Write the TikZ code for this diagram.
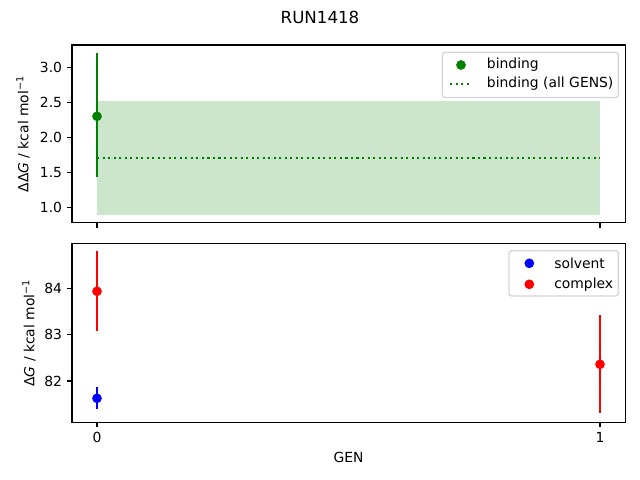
\documentclass[tikz,border=0pt]{standalone}
\usepackage{fontspec}
\setmainfont{DejaVu Sans}
\begin{document}
\begin{tikzpicture}[x=0.72pt,y=-0.72pt,
  spine/.style={draw=black,line width=0.8pt},
  tick/.style={draw=black,line width=0.8pt},
  ticklab/.style={font=\fontsize{10}{12}\selectfont,inner sep=0pt},
  ebar/.style={line width=1.5pt},
  dot/.style={circle,inner sep=0pt,minimum size=7pt},
  legbox/.style={draw={rgb,1:red,0.8;green,0.8;blue,0.8},fill=white,fill opacity=0.8,draw opacity=0.8,line width=1pt,rounded corners=2pt},
  legtext/.style={font=\fontsize{10}{12}\selectfont,anchor=west,inner sep=0pt}]
\definecolor{mgreen}{HTML}{008000}
\definecolor{mfill}{RGB}{204,230,204}
\useasboundingbox (0,0) rectangle (640,480);
% title
\node[font=\fontsize{12}{14}\selectfont,inner sep=0pt] (title) at (320,17) {RUN1418};
% ---------- top axes ----------
\fill[mfill] (97,101) rectangle (600,215.3);
\draw[mgreen,line width=1.5pt,dash pattern=on 1.5pt off 2.475pt] (97,157.7) -- (600,157.7);
\coordinate (tb0) at (97,53.3);
\coordinate (tb1) at (97,177.3);
\draw[mgreen,ebar] (tb0) -- (tb1);
\node[dot,fill=mgreen] (bind0) at (97,116.3) {};
\draw[spine] (72,45) rectangle (625.5,222.7);
\foreach \v/\y in {3.0/67.3,2.5/102.4,2.0/137.5,1.5/172.6,1.0/207.7}{
  \draw[tick] (72,\y) -- ++(-4.86,0);
  \node[ticklab,anchor=east] at (62.3,\y) {\v};
}
\foreach \x in {97,600}{\draw[tick] (\x,222.7) -- ++(0,4.86);}
\node[rotate=90,font=\fontsize{10}{12}\selectfont,inner sep=0pt] (ylab1) at (23,134) {ΔΔ\textit{G} / kcal mol\textsuperscript{−1}};
% legend top
\draw[legbox] (442.3,52.3) rectangle (618.3,97.5);
\node[dot,fill=mgreen] (lg1) at (461,65) {};
\node[legtext] (lt1) at (486.7,65) {binding};
\coordinate (ld1a) at (450,84);
\coordinate (ld1b) at (472,84);
\draw[mgreen,line width=1.5pt,dash pattern=on 1.5pt off 2.475pt] (ld1a) -- (ld1b);
\node[legtext] (lt2) at (486.7,84) {binding (all GENS)};
% ---------- bottom axes ----------
\coordinate (r0a) at (97,251);
\coordinate (r0b) at (97,330.7);
\draw[red,ebar] (r0a) -- (r0b);
\node[dot,fill=red] (red0) at (97,291.3) {};
\coordinate (b0a) at (97,386.7);
\coordinate (b0b) at (97,408.7);
\draw[blue,ebar] (b0a) -- (b0b);
\node[dot,fill=blue] (blue0) at (97,398.3) {};
\coordinate (r1a) at (600,315.3);
\coordinate (r1b) at (600,413.3);
\draw[red,ebar] (r1a) -- (r1b);
\node[dot,fill=red] (red1) at (600,364.3) {};
\draw[spine] (72,243.3) rectangle (625.5,422.3);
\foreach \v/\y in {84/288.3,83/334.65,82/381}{
  \draw[tick] (72,\y) -- ++(-4.86,0);
  \node[ticklab,anchor=east] at (62.3,\y) {\v};
}
\foreach \x/\l in {97/0,600/1}{
  \draw[tick] (\x,422.3) -- ++(0,4.86);
  \node[ticklab,anchor=north] at (\x,432) {\l};
}
\node[font=\fontsize{10}{12}\selectfont,inner sep=0pt] (xlab) at (348.5,457.5) {GEN};
\node[rotate=90,font=\fontsize{10}{12}\selectfont,inner sep=0pt] (ylab2) at (29,333) {Δ\textit{G} / kcal mol\textsuperscript{−1}};
% legend bottom
\draw[legbox] (509,250.7) rectangle (618.3,296);
\node[dot,fill=blue] (lg2) at (529.3,263.3) {};
\node[legtext] (lt3) at (554,263.3) {solvent};
\node[dot,fill=red] (lg3) at (529.3,284.3) {};
\node[legtext] (lt4) at (554,284.3) {complex};
\end{tikzpicture}
\end{document}
